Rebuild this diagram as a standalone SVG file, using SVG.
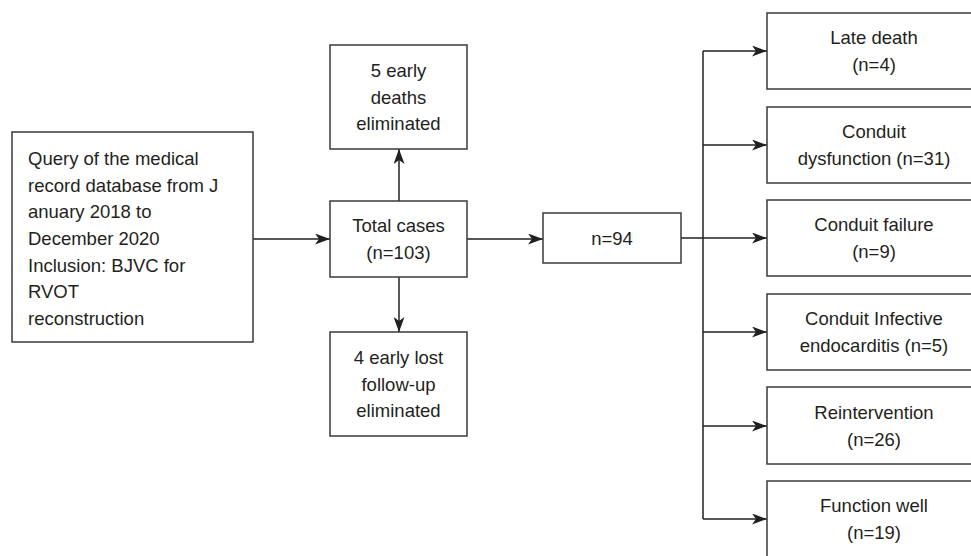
<svg xmlns="http://www.w3.org/2000/svg" width="971" height="556" viewBox="0 0 971 556">
<defs>
<marker id="ah" viewBox="0 0 15 11" refX="15" refY="5.5" markerWidth="15" markerHeight="11" markerUnits="userSpaceOnUse" orient="auto">
<path d="M0,0 L15,5.5 L0,11 L4,5.5 z" fill="#231f20"/>
</marker>
<style>
.box{fill:#fff;stroke:#3a3a3a;stroke-width:1.5}
.t{font-family:"Liberation Sans",Arial,sans-serif;font-size:18.5px;fill:#231f20}
.c{text-anchor:middle}
.ln{stroke:#231f20;stroke-width:1.5;fill:none}
</style>
</defs>
<rect width="971" height="556" fill="#fff"/>
<g id="connectors">
<line class="ln" x1="253" y1="239" x2="330" y2="239" marker-end="url(#ah)"/>
<line class="ln" x1="399" y1="201" x2="399" y2="149" marker-end="url(#ah)"/>
<line class="ln" x1="399" y1="277" x2="399" y2="332" marker-end="url(#ah)"/>
<line class="ln" x1="467" y1="239" x2="543" y2="239" marker-end="url(#ah)"/>
<line class="ln" x1="681" y1="238" x2="703" y2="238"/>
<line class="ln" x1="703" y1="51" x2="703" y2="519"/>
<line class="ln" x1="703" y1="51" x2="767" y2="51" marker-end="url(#ah)"/>
<line class="ln" x1="703" y1="145" x2="767" y2="145" marker-end="url(#ah)"/>
<line class="ln" x1="703" y1="238" x2="767" y2="238" marker-end="url(#ah)"/>
<line class="ln" x1="703" y1="332" x2="767" y2="332" marker-end="url(#ah)"/>
<line class="ln" x1="703" y1="426" x2="767" y2="426" marker-end="url(#ah)"/>
<line class="ln" x1="703" y1="519" x2="767" y2="519" marker-end="url(#ah)"/>
</g>
<g id="query">
<rect class="box" x="12" y="132" width="241" height="210"/>
<text class="t" x="28" y="165">Query of the medical</text>
<text class="t" x="28" y="191.7">record database from J</text>
<text class="t" x="28" y="218.3">anuary 2018 to</text>
<text class="t" x="28" y="245">December 2020</text>
<text class="t" x="28" y="271.7">Inclusion: BJVC for</text>
<text class="t" x="28" y="298.3">RVOT</text>
<text class="t" x="28" y="325">reconstruction</text>
</g>
<g id="total">
<rect class="box" x="330" y="201" width="137" height="76"/>
<text class="t c" x="398.5" y="232">Total cases</text>
<text class="t c" x="398.5" y="259">(n=103)</text>
</g>
<g id="early-deaths">
<rect class="box" x="330" y="45" width="137" height="104"/>
<text class="t c" x="398.5" y="77">5 early</text>
<text class="t c" x="398.5" y="104">deaths</text>
<text class="t c" x="398.5" y="130">eliminated</text>
</g>
<g id="early-lost">
<rect class="box" x="330" y="332" width="137" height="104"/>
<text class="t c" x="398.5" y="364">4 early lost</text>
<text class="t c" x="398.5" y="390.7">follow-up</text>
<text class="t c" x="398.5" y="417">eliminated</text>
</g>
<g id="n94">
<rect class="box" x="543" y="213" width="138" height="50"/>
<text class="t c" x="612" y="245">n=94</text>
</g>
<g id="late-death">
<rect class="box" x="767" y="13" width="214" height="76"/>
<text class="t c" x="874" y="44">Late death</text>
<text class="t c" x="874" y="71">(n=4)</text>
</g>
<g id="dysfunction">
<rect class="box" x="767" y="107" width="214" height="76"/>
<text class="t c" x="874" y="138">Conduit</text>
<text class="t c" x="874" y="165">dysfunction (n=31)</text>
</g>
<g id="failure">
<rect class="box" x="767" y="200" width="214" height="76"/>
<text class="t c" x="874" y="231">Conduit failure</text>
<text class="t c" x="874" y="258">(n=9)</text>
</g>
<g id="endocarditis">
<rect class="box" x="767" y="294" width="214" height="76"/>
<text class="t c" x="874" y="325">Conduit Infective</text>
<text class="t c" x="874" y="352">endocarditis (n=5)</text>
</g>
<g id="reintervention">
<rect class="box" x="767" y="387" width="214" height="77"/>
<text class="t c" x="874" y="419">Reintervention</text>
<text class="t c" x="874" y="446">(n=26)</text>
</g>
<g id="function-well">
<rect class="box" x="767" y="481" width="214" height="80"/>
<text class="t c" x="874" y="512">Function well</text>
<text class="t c" x="874" y="539">(n=19)</text>
</g>
</svg>
